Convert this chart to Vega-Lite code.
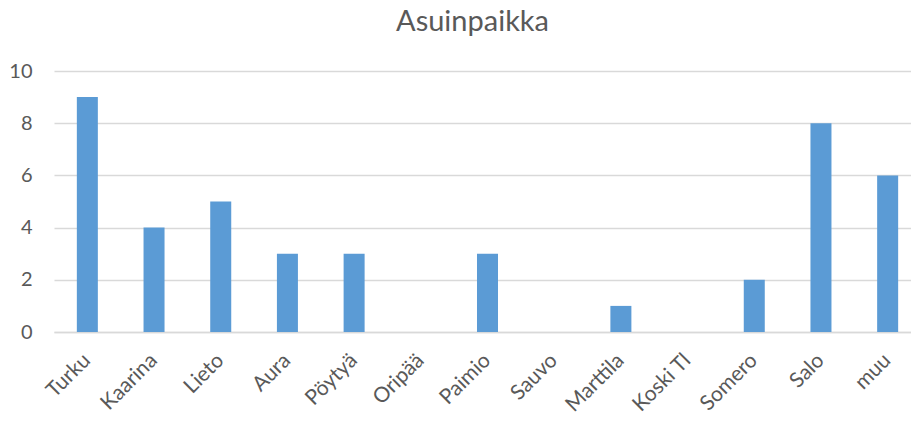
{
  "$schema": "https://vega.github.io/schema/vega-lite/v6.json",
  "autosize": {"type": "none"},
  "padding": {"left": 54, "top": 71, "right": 0, "bottom": 89},
  "width": 867,
  "height": 261,
  "background": "white",
  "title": {
    "text": "Asuinpaikka",
    "font": "Lato",
    "fontSize": 29,
    "fontWeight": "normal",
    "color": "#595959",
    "baseline": "alphabetic",
    "offset": 1,
    "dx": -15
  },
  "data": {
    "values": [
      {"paikka": "Turku", "n": 9},
      {"paikka": "Kaarina", "n": 4},
      {"paikka": "Lieto", "n": 5},
      {"paikka": "Aura", "n": 3},
      {"paikka": "Pöytyä", "n": 3},
      {"paikka": "Oripää", "n": 0},
      {"paikka": "Paimio", "n": 3},
      {"paikka": "Sauvo", "n": 0},
      {"paikka": "Marttila", "n": 1},
      {"paikka": "Koski Tl", "n": 0},
      {"paikka": "Somero", "n": 2},
      {"paikka": "Salo", "n": 8},
      {"paikka": "muu", "n": 6}
    ]
  },
  "mark": {"type": "bar", "color": "#5b9bd5"},
  "encoding": {
    "x": {
      "field": "paikka",
      "type": "nominal",
      "sort": null,
      "scale": {"paddingInner": 0.685, "paddingOuter": 0.3425},
      "axis": {
        "title": null,
        "labelAngle": -45,
        "labelAlign": "right",
        "labelBaseline": "middle",
        "labelFont": "Lato",
        "labelFontSize": 21,
        "labelColor": "#595959",
        "labelPadding": 25,
        "ticks": false,
        "domainColor": "#d9d9d9",
        "domainWidth": 1.5,
        "grid": false
      }
    },
    "y": {
      "field": "n",
      "type": "quantitative",
      "scale": {"domain": [0, 10]},
      "axis": {
        "title": null,
        "values": [0, 2, 4, 6, 8, 10],
        "labelFont": "Lato",
        "labelFontSize": 20,
        "labelColor": "#595959",
        "labelPadding": 22,
        "ticks": false,
        "domain": false,
        "gridColor": "#d9d9d9",
        "gridWidth": 1.5
      }
    }
  },
  "config": {"view": {"stroke": null}}
}
